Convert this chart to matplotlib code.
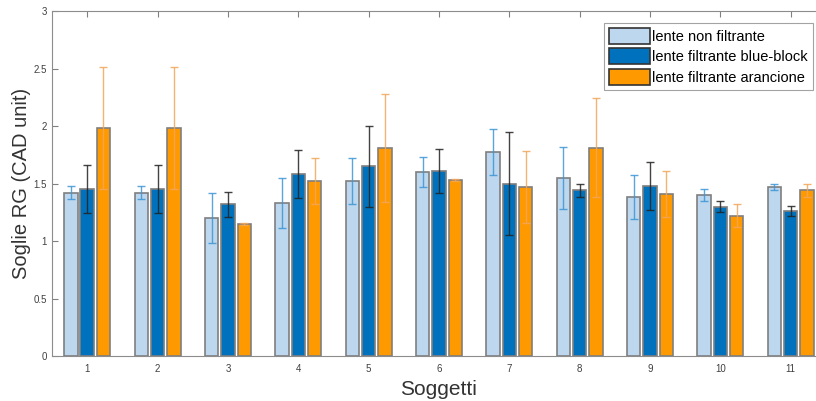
import numpy as np
import matplotlib
matplotlib.use("Agg")
import matplotlib.pyplot as plt

plt.rcParams["font.family"] = ["Liberation Sans", "DejaVu Sans"]

# Soggetti 1..11
soggetti = np.arange(1, 12)

# lente non filtrante
non_filt = [1.42, 1.42, 1.20, 1.33, 1.52, 1.60, 1.77, 1.55, 1.38, 1.40, 1.47]
non_filt_err = [0.055, 0.055, 0.22, 0.22, 0.20, 0.13, 0.20, 0.27, 0.19, 0.05, 0.03]

# lente filtrante blue-block
blue_block = [1.45, 1.45, 1.32, 1.58, 1.65, 1.61, 1.50, 1.44, 1.48, 1.30, 1.26]
blue_block_err = [0.21, 0.21, 0.11, 0.21, 0.35, 0.19, 0.45, 0.06, 0.21, 0.045, 0.045]

# lente filtrante arancione
arancione = [1.98, 1.98, 1.15, 1.52, 1.81, 1.53, 1.47, 1.81, 1.41, 1.22, 1.44]
arancione_err = [0.53, 0.53, 0.01, 0.20, 0.47, 0.005, 0.31, 0.43, 0.20, 0.10, 0.055]

labels = ["lente non filtrante", "lente filtrante blue-block", "lente filtrante arancione"]

fig = plt.figure(figsize=(8.16, 4.01), dpi=100)
ax = fig.add_axes([0.0637, 0.1122, 0.9485, 0.8603])

w = 0.19
off = 0.232
series = [
    (non_filt, non_filt_err, "#bdd7ee", "#3d96d6"),
    (blue_block, blue_block_err, "#0072bd", "#222222"),
    (arancione, arancione_err, "#ff9900", "#f2a65a"),
]
for i, (vals, errs, fc, ec) in enumerate(series):
    x = soggetti + (i - 1) * off
    ax.bar(x, vals, width=w, color=fc, edgecolor="#7f7f7f", linewidth=1.2,
           label=labels[i], zorder=2)
    ax.errorbar(x, vals, yerr=errs, fmt="none", ecolor=ec, elinewidth=1.0,
                capsize=3, capthick=1.0, alpha=0.85, zorder=3)

ax.set_xlim(0.5, 11.5)
ax.set_ylim(0, 3)
ax.set_xticks(soggetti)
ax.set_yticks([0, 0.5, 1, 1.5, 2, 2.5, 3])
ax.set_yticklabels(["0", "0.5", "1", "1.5", "2", "2.5", "3"])
ax.tick_params(axis="both", direction="in", length=4, width=0.8,
               colors="#808080", labelcolor="#404040", labelsize=7,
               top=True, right=False)
ax.tick_params(axis="x", pad=6)
for s in ax.spines.values():
    s.set_color("#8c8c8c")
    s.set_linewidth(0.8)

ax.set_xlabel("Soggetti", fontsize=15, color="#333333", labelpad=4)
ax.set_ylabel("Soglie RG (CAD unit)", fontsize=14.5, color="#333333", labelpad=2)

leg = ax.legend(loc="upper right", bbox_to_anchor=(0.983, 0.965), fontsize=10.5,
                frameon=True, fancybox=False, edgecolor="#8c8c8c",
                handlelength=2.8, handleheight=1.3, handletextpad=0.15,
                labelspacing=0.3, borderpad=0.35, borderaxespad=0)
leg.get_frame().set_linewidth(0.8)
for h in leg.legend_handles:
    h.set_edgecolor("#333333")

fig.savefig("out.png", dpi=100)
